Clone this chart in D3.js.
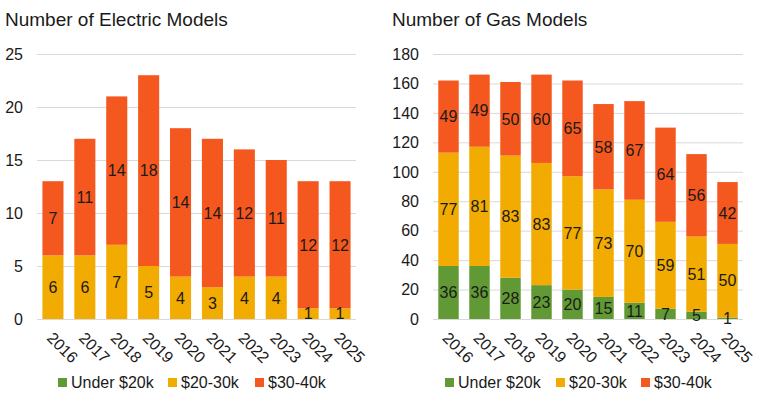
<!DOCTYPE html>
<html>
<head>
<meta charset="utf-8">
<script src="https://cdn.jsdelivr.net/npm/d3@7"></script>
<style>
  body { margin: 0; background: #fff; }
  svg { display: block; font-family: "Liberation Sans", Arial, sans-serif; }
</style>
</head>
<body>
<div id="chart"></div>
<script>
const years = ["2016", "2017", "2018", "2019", "2020", "2021", "2022", "2023", "2024", "2025"];
const seriesNames = ["Under $20k", "$20-30k", "$30-40k"];
const seriesColors = ["#619a35", "#f2ab00", "#f4581e"];

// Electric models per price bracket
const electricUnder20 = [0, 0, 0, 0, 0, 0, 0, 0, 0, 0];
const electric20to30 = [6, 6, 7, 5, 4, 3, 4, 4, 1, 1];
const electric30to40 = [7, 11, 14, 18, 14, 14, 12, 11, 12, 12];
const electricTicks = [0, 5, 10, 15, 20, 25];

// Gas models per price bracket
const gasUnder20 = [36, 36, 28, 23, 20, 15, 11, 7, 5, 1];
const gas20to30 = [77, 81, 83, 83, 77, 73, 70, 59, 51, 50];
const gas30to40 = [49, 49, 50, 60, 65, 58, 67, 64, 56, 42];
const gasTicks = [0, 20, 40, 60, 80, 100, 120, 140, 160, 180];

const width = 762;
const height = 415;

const svg = d3.select("#chart")
    .append("svg")
    .attr("width", width)
    .attr("height", height);

function drawChart(opts) {
    const g = svg.append("g");

    const rows = years.map((y, i) => {
        const r = { year: y };
        opts.series.forEach((s, k) => r[seriesNames[k]] = s[i]);
        return r;
    });
    const stacked = d3.stack().keys(seriesNames)(rows);

    const x = d3.scaleBand()
        .domain(years)
        .range([opts.left, opts.right])
        .paddingInner(0.34)
        .paddingOuter(0.17);

    const y = d3.scaleLinear()
        .domain([0, d3.max(opts.ticks)])
        .range([319, 54]);

    // Title
    g.append("text")
        .attr("x", opts.titleX)
        .attr("y", 26)
        .attr("font-size", "19px")
        .attr("fill", "#1a1a1a")
        .text(opts.title);

    // Gridlines
    g.append("g")
        .selectAll("line")
        .data(opts.ticks)
        .enter().append("line")
        .attr("x1", opts.left)
        .attr("x2", opts.right)
        .attr("y1", d => y(d) + 0.5)
        .attr("y2", d => y(d) + 0.5)
        .attr("stroke", "#d9d9d9")
        .attr("stroke-width", 1);

    // Y axis labels
    g.append("g")
        .selectAll("text")
        .data(opts.ticks)
        .enter().append("text")
        .attr("x", opts.left - 14)
        .attr("y", d => y(d))
        .attr("dy", "0.36em")
        .attr("text-anchor", "end")
        .attr("font-size", "16px")
        .attr("fill", "#1a1a1a")
        .text(d => d);

    // Bars
    g.append("g")
        .selectAll("g")
        .data(stacked)
        .enter().append("g")
        .attr("fill", (d, i) => seriesColors[i])
        .selectAll("rect")
        .data(d => d)
        .enter().append("rect")
        .attr("x", d => x(d.data.year))
        .attr("width", x.bandwidth())
        .attr("y", d => y(d[1]))
        .attr("height", d => y(d[0]) - y(d[1]));

    // X axis line
    g.append("line")
        .attr("x1", opts.left)
        .attr("x2", opts.right)
        .attr("y1", y(0) + 0.5)
        .attr("y2", y(0) + 0.5)
        .attr("stroke", "#d9d9d9");

    // Data labels, on top of all bars
    g.append("g")
        .selectAll("g")
        .data(stacked)
        .enter().append("g")
        .selectAll("text")
        .data(d => d.filter(p => p[1] - p[0] > 0))
        .enter().append("text")
        .attr("x", d => x(d.data.year) + x.bandwidth() / 2)
        .attr("y", d => (y(d[0]) + y(d[1])) / 2)
        .attr("dy", "0.36em")
        .attr("text-anchor", "middle")
        .attr("font-size", "16px")
        .attr("fill", "#1a1a1a")
        .text(d => d[1] - d[0]);

    // Rotated year labels
    g.append("g")
        .selectAll("text")
        .data(years)
        .enter().append("text")
        .attr("transform", d => `translate(${x(d) + x.bandwidth() / 2 + 1},${331}) rotate(45)`)
        .attr("dy", "0.7em")
        .attr("font-size", "16px")
        .attr("fill", "#1a1a1a")
        .text(d => d);

    // Legend
    const legend = g.append("g")
        .selectAll("g")
        .data(seriesNames)
        .enter().append("g")
        .attr("transform", (d, i) => `translate(${opts.legendX[i]},378)`);

    legend.append("rect")
        .attr("width", 9)
        .attr("height", 9)
        .attr("fill", (d, i) => seriesColors[i]);

    legend.append("text")
        .attr("x", 13)
        .attr("y", 4.5)
        .attr("dy", "0.36em")
        .attr("font-size", "16px")
        .attr("fill", "#1a1a1a")
        .text(d => d);
}

drawChart({
    title: "Number of Electric Models",
    titleX: 5,
    left: 37,
    right: 356,
    ticks: electricTicks,
    series: [electricUnder20, electric20to30, electric30to40],
    legendX: [58, 168, 255]
});

drawChart({
    title: "Number of Gas Models",
    titleX: 392,
    left: 433,
    right: 743,
    ticks: gasTicks,
    series: [gasUnder20, gas20to30, gas30to40],
    legendX: [445, 556, 641]
});
</script>
</body>
</html>
